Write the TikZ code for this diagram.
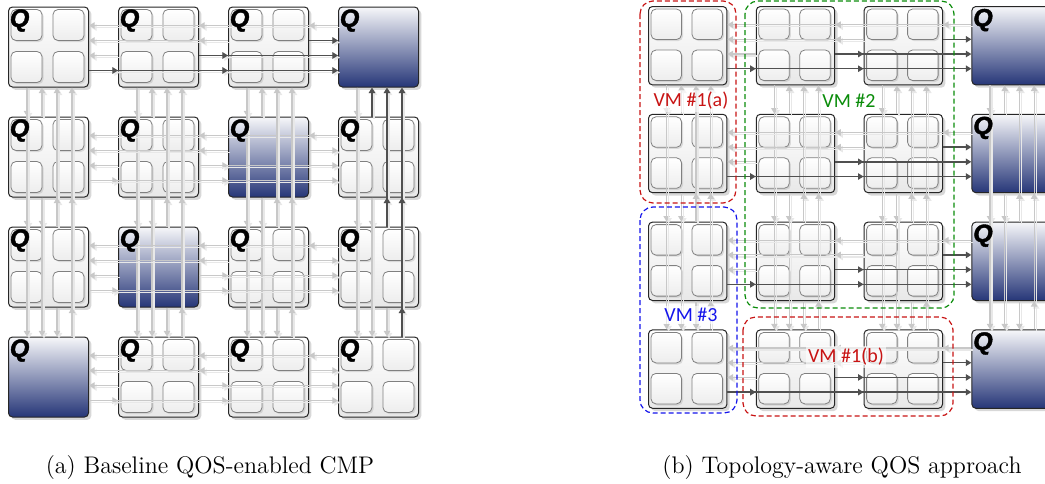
\documentclass[tikz,border=0pt]{standalone}
\usepackage{fontspec}
\newfontfamily\qfont{Liberation Sans Bold Italic}[FakeBold=1.6]
\newfontfamily\vmfont{Carlito}
\usetikzlibrary{calc,shadows,arrows.meta}

\definecolor{qnavy}{RGB}{38,54,120}
\definecolor{linklight}{RGB}{200,200,200}
\definecolor{linkdark}{RGB}{80,80,80}
\definecolor{vmred}{RGB}{200,20,20}
\definecolor{vmgreen}{RGB}{10,140,10}
\definecolor{vmblue}{RGB}{20,20,235}

\begin{document}
\begin{tikzpicture}[x = 0.5pt, y = 0.5pt]

\tikzset{
	tile/.style = {
		draw = black!85, line width = 0.5pt, rounded corners = 2pt,
		minimum size = 40pt, inner sep = 0pt, anchor = north west,
		top color = white, bottom color = black!9,
		drop shadow = {shadow xshift = 1.4pt, shadow yshift = -1.4pt, fill = black!30, opacity = 0.5}
	},
	qtile/.style = {tile, top color = qnavy!4, bottom color = qnavy},
	core/.style = {
		draw = black!50, line width = 0.4pt, rounded corners = 2.5pt,
		top color = white, bottom color = black!7,
		drop shadow = {shadow xshift = 0.8pt, shadow yshift = -0.8pt, fill = black!25, opacity = 0.5}
	},
	qlabel/.style = {anchor = north west, inner sep = 0pt,
		font = \qfont\fontsize{12.5}{12.5}\selectfont},
	link/.style = {draw = linklight, line width = 0.55pt, -{Triangle[length = 2.8pt, width = 3.2pt]},
		preaction = {draw = black!9, line width = 0.6pt, transform canvas = {shift = {(1pt,-1pt)}}}},
	hot/.style = {draw = linkdark, line width = 0.7pt, -{Triangle[length = 2.8pt, width = 3.2pt]}},
	vmbox/.style = {dash pattern = on 2.5pt off 1.5pt, line width = 0.6pt, rounded corners = 6.5pt},
	vmlabel/.style = {font = \vmfont\fontsize{10}{12}\selectfont, inner sep = 1pt,
		fill = white, fill opacity = 0.6, text opacity = 1},
	subcap/.style = {anchor = base, font = \fontsize{12}{14}\selectfont}
}

\useasboundingbox (0,0) rectangle (1045,-483);
\clip (0,0) rectangle (1045,-483);

%% (a) baseline CMP
\foreach \r in {1,...,4}
	\foreach \c in {1,...,4} {
		\pgfmathsetmacro\tx{8+110*(\c-1)}
		\pgfmathsetmacro\ty{-6.5-110*(\r-1)}
		\pgfmathtruncatemacro\s{\r+\c}
		\ifnum\s=5
			\node[qtile] (a-\r-\c) at (\tx,\ty) {};
		\else
			\node[tile] (a-\r-\c) at (\tx,\ty) {};
			\foreach \i/\j in {3/3, 45/3, 3/45, 45/45}
				\path[core] ($(a-\r-\c.north west)+(\i,-\j)$) rectangle +(31,-31);
		\fi
	}

% links in rows and columns
\foreach \r in {1,...,4}
	\foreach \c in {1,...,4}
		\foreach \d in {1,...,4} {
			\pgfmathsetmacro\h{4+15*(5-\c)}
			\pgfmathsetmacro\v{4+15*\r}
			\ifnum\d>\c
				\draw[link] ($(a-\r-\c.north east)+(0,-\h)$) -- ($(a-\r-\d.north west)+(0,-\h)$);
			\fi
			\ifnum\d<\c
				\draw[link] ($(a-\r-\c.north west)+(0,-\h)$) -- ($(a-\r-\d.north east)+(0,-\h)$);
			\fi
			\ifnum\d>\r
				\draw[link] ($(a-\r-\c.south west)+(\v,0)$) -- ($(a-\d-\c.north west)+(\v,0)$);
			\fi
			\ifnum\d<\r
				\draw[link] ($(a-\r-\c.north west)+(\v,0)$) -- ($(a-\d-\c.south west)+(\v,0)$);
			\fi
		}

% paths to the Q tile in the corner
\foreach \c in {1,2,3}
	\foreach \d in {2,3,4} {
		\pgfmathsetmacro\h{4+15*(5-\c)}
		\pgfmathsetmacro\v{4+15*\d}
		\ifnum\d>\c
			\draw[hot] ($(a-1-\c.north east)+(0,-\h)$) -- ($(a-1-\d.north west)+(0,-\h)$);
			\draw[hot] ($(a-\d-4.north west)+(\v,0)$) -- ($(a-\c-4.south west)+(\v,0)$);
		\fi
	}

\foreach \r in {1,...,4}
	\foreach \c in {1,...,4}
		\node[qlabel] (a-\r-\c-q) at ($(a-\r-\c.north west)+(1.5,-2.5)$) {Q};

%% (b) topology-aware
\foreach \r in {1,...,4}
	\foreach \c in {1,...,4} {
		\pgfmathsetmacro\tx{648+107.8*(\c-1)}
		\pgfmathsetmacro\ty{-6-107.8*(\r-1)}
		\ifnum\c=4
			\node[qtile, minimum size = 39.2pt] (b-\r-\c) at (\tx,\ty) {};
		\else
			\node[tile, minimum size = 39.2pt] (b-\r-\c) at (\tx,\ty) {};
			\foreach \i/\j in {3/3, 44/3, 3/44, 44/44}
				\path[core] ($(b-\r-\c.north west)+(\i,-\j)$) rectangle +(30.5,-30.5);
		\fi
	}

\foreach \r in {1,...,4}
	\foreach \c in {1,...,4}
		\foreach \d in {1,...,4} {
			\pgfmathsetmacro\h{0.98*(4+15*(5-\c))}
			\pgfmathsetmacro\v{0.98*(4+15*\r)}
			\ifnum\d<\c
				\draw[link] ($(b-\r-\c.north west)+(0,-\h)$) -- ($(b-\r-\d.north east)+(0,-\h)$);
			\fi
			\ifnum\d>\r
				\draw[link] ($(b-\r-\c.south west)+(\v,0)$) -- ($(b-\d-\c.north west)+(\v,0)$);
			\fi
			\ifnum\d<\r
				\draw[link] ($(b-\r-\c.north west)+(\v,0)$) -- ($(b-\d-\c.south west)+(\v,0)$);
			\fi
		}

% every row sends to its own Q tile
\foreach \r in {1,...,4}
	\foreach \c in {1,2,3}
		\foreach \d in {2,3,4} {
			\pgfmathsetmacro\h{0.98*(4+15*(5-\c))}
			\ifnum\d>\c
				\draw[hot] ($(b-\r-\c.north east)+(0,-\h)$) -- ($(b-\r-\d.north west)+(0,-\h)$);
			\fi
		}

\foreach \r in {1,...,4}
	\node[qlabel] (b-\r-4-q) at ($(b-\r-4.north west)+(1.5,-2.5)$) {Q};

% virtual machines
\draw[vmbox, vmred] (640,-1) rectangle (736,-203);
\draw[vmbox, vmgreen] (745,-1) rectangle (954,-308);
\draw[vmbox, vmblue] (640,-207) rectangle (737,-413);
\draw[vmbox, vmred] (743,-317) rectangle (953,-416);

\node[vmlabel, text = vmred] (vm1a) at (691,-101) {VM \#1(a)};
\node[vmlabel, text = vmgreen] (vm2) at (849,-101) {VM \#2};
\node[vmlabel, text = vmblue] (vm3) at (691,-315) {VM \#3};
\node[vmlabel, text = vmred] (vm1b) at (846,-357) {VM \#1(b)};

\node[subcap] (cap-a) at (210,-473) {(a) Baseline QOS-enabled CMP};
\node[subcap] (cap-b) at (842,-473) {(b) Topology-aware QOS approach};
\end{tikzpicture}
\end{document}
